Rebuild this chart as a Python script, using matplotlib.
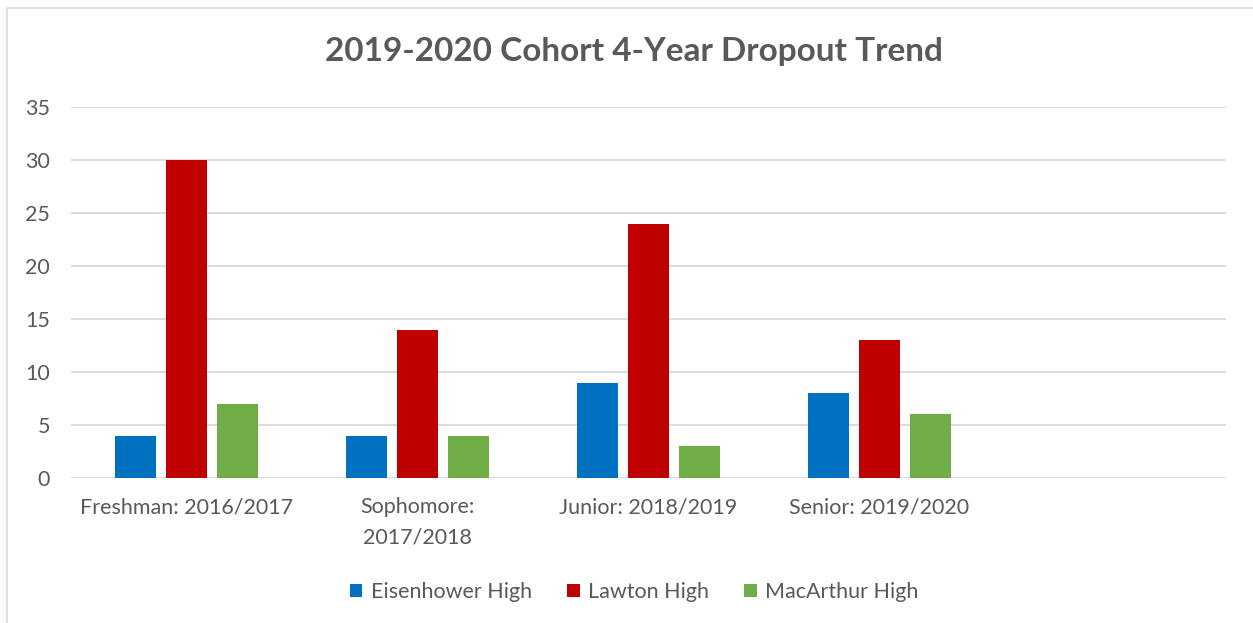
import matplotlib
matplotlib.use('Agg')
import matplotlib.pyplot as plt
import numpy as np
from matplotlib.patches import Rectangle

plt.rcParams['font.family'] = ['Lato', 'DejaVu Sans']

title = "2019-2020 Cohort 4-Year Dropout Trend"
categories = ["Freshman: 2016/2017", "Sophomore:\n2017/2018", "Junior: 2018/2019", "Senior: 2019/2020", ""]
series_names = ["Eisenhower High", "Lawton High", "MacArthur High"]
eisenhower = [4, 4, 9, 8]
lawton = [30, 14, 24, 13]
macarthur = [7, 4, 3, 6]
colors = ["#0070C0", "#C00000", "#70AD47"]
yticks = [0, 5, 10, 15, 20, 25, 30, 35]

grey = "#595959"
fig = plt.figure(figsize=(12.53, 6.23), dpi=100)
ax = fig.add_axes([71/1253, 1-478/623, (1226-71)/1253, (478-107)/623])

# border around chart
fig.patches.append(Rectangle((7/1253, -0.1), 1.2, 1 - 8/623 + 0.1, transform=fig.transFigure,
                             fill=False, edgecolor="#D9D9D9", linewidth=1.2, zorder=0))

x = np.arange(len(eisenhower))
width = 41/231
offset = 51/231
for i, (vals, name) in enumerate(zip([eisenhower, lawton, macarthur], series_names)):
    ax.bar(x + (i-1)*offset, vals, width=width, color=colors[i], label=name, zorder=3)

ax.set_xlim(-0.5, len(categories)-0.5)
ax.set_ylim(0, 35)
ax.set_yticks(yticks)
ax.set_xticks(np.arange(len(categories)))
ax.set_xticklabels(categories, linespacing=1.65)
ax.yaxis.grid(True, color="#D9D9D9", linewidth=1.3, zorder=0)
ax.set_axisbelow(True)
for s in ax.spines.values():
    s.set_visible(False)
ax.tick_params(axis='both', length=0, labelsize=15.5, labelcolor=grey)
ax.tick_params(axis='y', pad=15)
ax.tick_params(axis='x', pad=14)

fig.text(634/1253, 1-52/623, title, ha='center', va='center', fontsize=24,
         fontweight='bold', color=grey)

leg = fig.legend(loc='center', bbox_to_anchor=(634/1253, 1-592/623), ncol=3, frameon=False,
                 fontsize=15.5, handlelength=0.6, handleheight=0.6, handletextpad=0.4,
                 columnspacing=1.6, labelcolor=grey)

fig.savefig("out.png", dpi=100)
